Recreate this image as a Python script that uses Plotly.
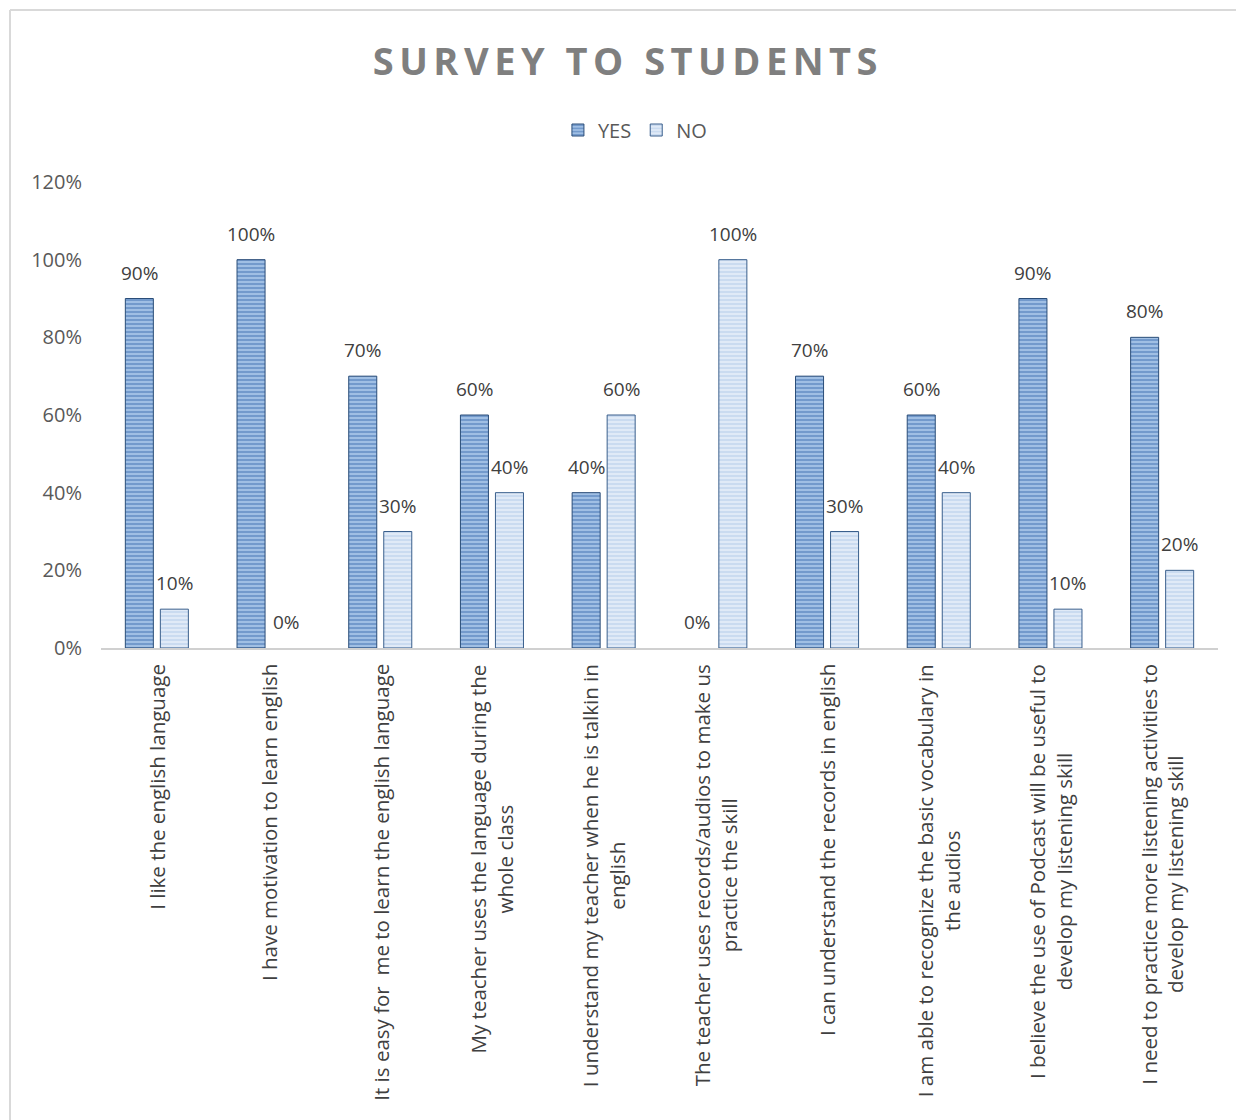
import plotly.graph_objects as go

categories = [
    "I like the english language",
    "I have motivation to learn english",
    "It is easy for  me to learn the english language",
    "My teacher uses the language during the<br>whole class",
    "I understand my teacher when he is talkin in<br>english",
    "The teacher uses records/audios to make us<br>practice the skill",
    "I can understand the records in english",
    "I am able to recognize the basic vocabulary in<br>the audios",
    "I believe the use of Podcast will be useful to<br>develop my listening skill",
    "I need to practice more listening activities to<br>develop my listening skill",
]
yes_values = [0.90, 1.00, 0.70, 0.60, 0.40, 0.00, 0.70, 0.60, 0.90, 0.80]
no_values = [0.10, 0.00, 0.30, 0.40, 0.60, 1.00, 0.30, 0.40, 0.10, 0.20]
y_ticks = [0, 0.2, 0.4, 0.6, 0.8, 1.0, 1.2]

FONT = "Open Sans"
W, H = 1236, 1120
L, R, T, B = 101, 18, 182, 472

fig = go.Figure()
fig.add_trace(go.Bar(
    name="YES", x=categories, y=yes_values,
    marker=dict(color="#6f9ad0",
                line=dict(color="#2a4d78", width=[1 if v > 0 else 0 for v in yes_values]),
                pattern=dict(shape="-", fgcolor="#4576b3", bgcolor="#a0bfe4",
                             size=4, solidity=0.5)),
))
fig.add_trace(go.Bar(
    name="NO", x=categories, y=no_values,
    marker=dict(color="#d6e4f5",
                line=dict(color="#3a5f8c", width=[1 if v > 0 else 0 for v in no_values]),
                pattern=dict(shape="-", fgcolor="#abc5e6", bgcolor="#e0eaf7",
                             size=4, solidity=0.4)),
))

annotations = []
# value labels
for cat, yv, nv in zip(categories, yes_values, no_values):
    for val, dx in ((yv, -17.5), (nv, 17.5)):
        annotations.append(dict(
            x=cat, y=val, xref="x", yref="y", text=f"{val:.0%}", showarrow=False,
            xanchor="center", yanchor="bottom", xshift=dx, yshift=11,
            font=dict(family=FONT, size=19, color="#404040"),
        ))
# category labels (rotated, centre-aligned lines)
for cat in categories:
    annotations.append(dict(
        x=cat, y=0, xref="x", yref="y", text=cat, showarrow=False, textangle=-90,
        xanchor="center", yanchor="top", yshift=-14, align="center",
        font=dict(family=FONT, size=20.5, color="#404040"),
    ))

pw = W - L - R
ph = H - T - B
def px_x(p): return (p - L) / pw
def px_y(p): return (H - B - p) / ph

title_text = '<span style="letter-spacing:5.5px"><b>SURVEY TO STUDENTS</b></span>'

fig.update_layout(
    width=W, height=H,
    margin=dict(l=L, r=R, t=T, b=B, autoexpand=False),
    paper_bgcolor="white", plot_bgcolor="white",
    barmode="group", bargap=0.373, bargroupgap=0.2,
    title=dict(text=title_text, x=0.508, xanchor="center",
               y=1 - 62 / H, yanchor="middle",
               font=dict(family=FONT, size=38, color="#7f7f7f")),
    legend=dict(orientation="h", x=0.478, xanchor="center", y=px_y(130), yanchor="middle",
                font=dict(family=FONT, size=20, color="#595959"),
                itemwidth=30, traceorder="normal", bgcolor="rgba(0,0,0,0)"),
    xaxis=dict(showticklabels=False, showgrid=False, showline=True, linecolor="#d0d0d0",
               linewidth=2, ticks=""),
    yaxis=dict(range=[0, 1.2], tickvals=y_ticks, tickformat=".0%", showgrid=False,
               zeroline=False, showline=False, ticks="",
               ticklabelstandoff=18,
               tickfont=dict(family=FONT, size=20, color="#595959")),
    annotations=annotations,
    shapes=[
        dict(type="line", xref="paper", yref="paper", x0=px_x(10), x1=px_x(W + 5),
             y0=px_y(10), y1=px_y(10), line=dict(color="#d9d9d9", width=2)),
        dict(type="line", xref="paper", yref="paper", x0=px_x(10), x1=px_x(10),
             y0=px_y(10), y1=px_y(H + 5), line=dict(color="#d9d9d9", width=2)),
    ],
)

fig.write_html("out.html")
